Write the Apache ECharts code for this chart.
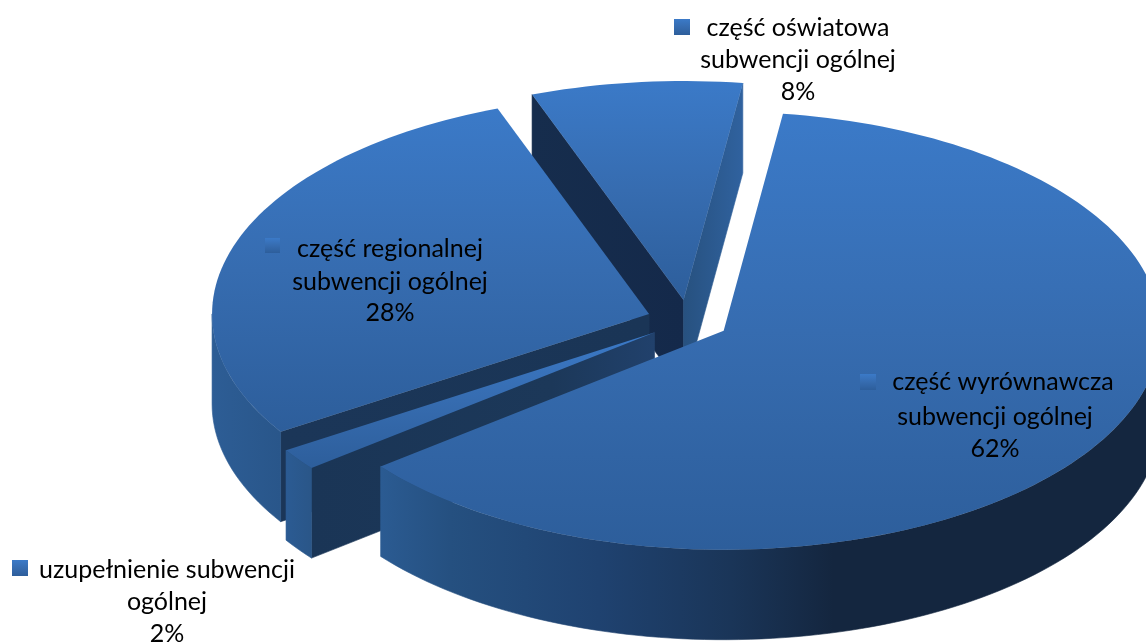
<!DOCTYPE html>
<html>
<head>
<meta charset="utf-8">
<style>
  html, body { margin: 0; padding: 0; background: #fff; }
  #chart-main { width: 1146px; height: 644px; }
</style>
<script src="https://cdn.jsdelivr.net/npm/echarts@6/dist/echarts.min.js"></script>
</head>
<body>
<div id="chart-main"></div>
<script>
// dane, kolejnosc zgodnie z ruchem wskazowek od gory
const categories = [
  'część wyrównawcza\nsubwencji ogólnej',
  'uzupełnienie subwencji\nogólnej',
  'część regionalnej\nsubwencji ogólnej',
  'część oświatowa\nsubwencji ogólnej'
]
const values = [62.2, 1.6, 28.4, 7.8]

// uklad "3D": elipsa, wysokosc i rozsuniecie wycinkow
const centerX = 688
const centerY = 320.5
const radiusX = 437
const radiusY = 219
const depth = 90
const explode = 0.094
const startAngle = 7.8

// tyl -> przod
const sliceZ = [40, 30, 20, 10]

const labelBoxes = [
  { key: [860, 374, 16], x: 995, y: 382, firstDx: 8, dy: [0, 35, 67] },
  { key: [12, 560, 16], x: 167, y: 570, firstDx: 0, dy: [0, 32, 64] },
  { key: [265, 238, 15], x: 390, y: 249, firstDx: 0, dy: [0, 33, 64] },
  { key: [674, 19, 16], x: 798, y: 28, firstDx: 0, dy: [0, 32, 64] }
]

// cieniowanie scian: [sciana poczatkowa, sciana koncowa, luk]
const wallStops = [
  [null, null, [[0, '#2b5b92'], [0.09, '#255080'], [0.28, '#1f4270'], [0.45, '#1a3558'], [0.58, '#14263f'], [1, '#14263f']]],
  [[[0, '#1a3556'], [0.7, '#1c3859'], [1, '#21416c']], null, [[0, '#2b5b93'], [1, '#2a5688']]],
  [[[0, '#1b3658'], [1, '#1a3556']], null, [[0, '#2d5d95'], [1, '#29568a']]],
  [[[0, '#162d4d'], [1, '#14294a']], [[0, '#27517f'], [1, '#30629f']], null]
]

const topStops = [[0, '#3b7ac8'], [0.5, '#366cb0'], [1, '#2d5e9b']]

const toRad = (deg) => (deg * Math.PI) / 180

function gradient(stops, vertical) {
  return new echarts.graphic.LinearGradient(
    0, 0, vertical ? 0 : 1, vertical ? 1 : 0,
    stops.map((s) => ({ offset: s[0], color: s[1] }))
  )
}

function sliceAngles(index) {
  const total = values.reduce((acc, v) => acc + v, 0)
  const before = values.slice(0, index).reduce((acc, v) => acc + v, 0)
  const a0 = startAngle + (before / total) * 360
  return [a0, a0 + (values[index] / total) * 360]
}

function renderSlice(params) {
  const i = params.dataIndex
  const [a0, a1] = sliceAngles(i)
  const mid = toRad((a0 + a1) / 2)
  const cx = centerX + explode * radiusX * Math.sin(mid)
  const cy = centerY - explode * radiusY * Math.cos(mid)
  const pt = (deg) => [
    cx + radiusX * Math.sin(toRad(deg)),
    cy - radiusY * Math.cos(toRad(deg))
  ]
  const arc = (from, to) => {
    const pts = []
    const n = Math.max(2, Math.ceil((to - from) / 1.5))
    for (let k = 0; k <= n; k++) pts.push(pt(from + ((to - from) * k) / n))
    return pts
  }
  const z2 = sliceZ[i]
  const children = []
  const addWall = (points, stops) => {
    const fill = gradient(stops, false)
    children.push({
      type: 'polygon',
      z2: z2,
      shape: { points: points },
      style: { fill: fill, stroke: fill, lineWidth: 0.6 }
    })
  }

  // sciany przekroju
  const [startStops, endStops, arcStops] = wallStops[i]
  if (startStops) {
    const p = pt(a0)
    addWall([[cx, cy], p, [p[0], p[1] + depth], [cx, cy + depth]], startStops)
  }
  if (endStops) {
    const p = pt(a1)
    addWall([[cx, cy], p, [p[0], p[1] + depth], [cx, cy + depth]], endStops)
  }
  // sciana zewnetrzna, tylko przednia polowa elipsy
  const from = Math.max(a0, 90)
  const to = Math.min(a1, 270)
  if (arcStops && to > from) {
    const rim = arc(from, to)
    const low = rim.map((p) => [p[0], p[1] + depth]).reverse()
    addWall(rim.concat(low), arcStops)
  }

  // gora wycinka
  children.push({
    type: 'polygon',
    z2: z2 + 1,
    shape: { points: [[cx, cy]].concat(arc(a0, a1)) },
    style: { fill: gradient(topStops, true) }
  })

  // etykieta
  const box = labelBoxes[i]
  children.push({
    type: 'rect',
    z2: 100,
    shape: { x: box.key[0], y: box.key[1], width: box.key[2], height: box.key[2] },
    style: { fill: gradient(topStops, true) }
  })
  const lines = (categories[i] + '\n' + Math.round(values[i]) + '%').split('\n')
  lines.forEach((line, n) => {
    children.push({
      type: 'text',
      z2: 100,
      style: {
        text: line,
        x: box.x + (n === 0 ? box.firstDx : 0),
        y: box.y + box.dy[n],
        align: 'center',
        verticalAlign: 'middle',
        fill: '#000',
        font: '25px Lato'
      }
    })
  })
  return { type: 'group', children: children }
}

const chart = echarts.init(document.getElementById('chart-main'))
chart.setOption({
  animation: false,
  backgroundColor: '#fff',
  series: [
    {
      type: 'custom',
      coordinateSystem: 'none',
      silent: true,
      renderItem: renderSlice,
      data: values
    }
  ]
})
</script>
</body>
</html>
